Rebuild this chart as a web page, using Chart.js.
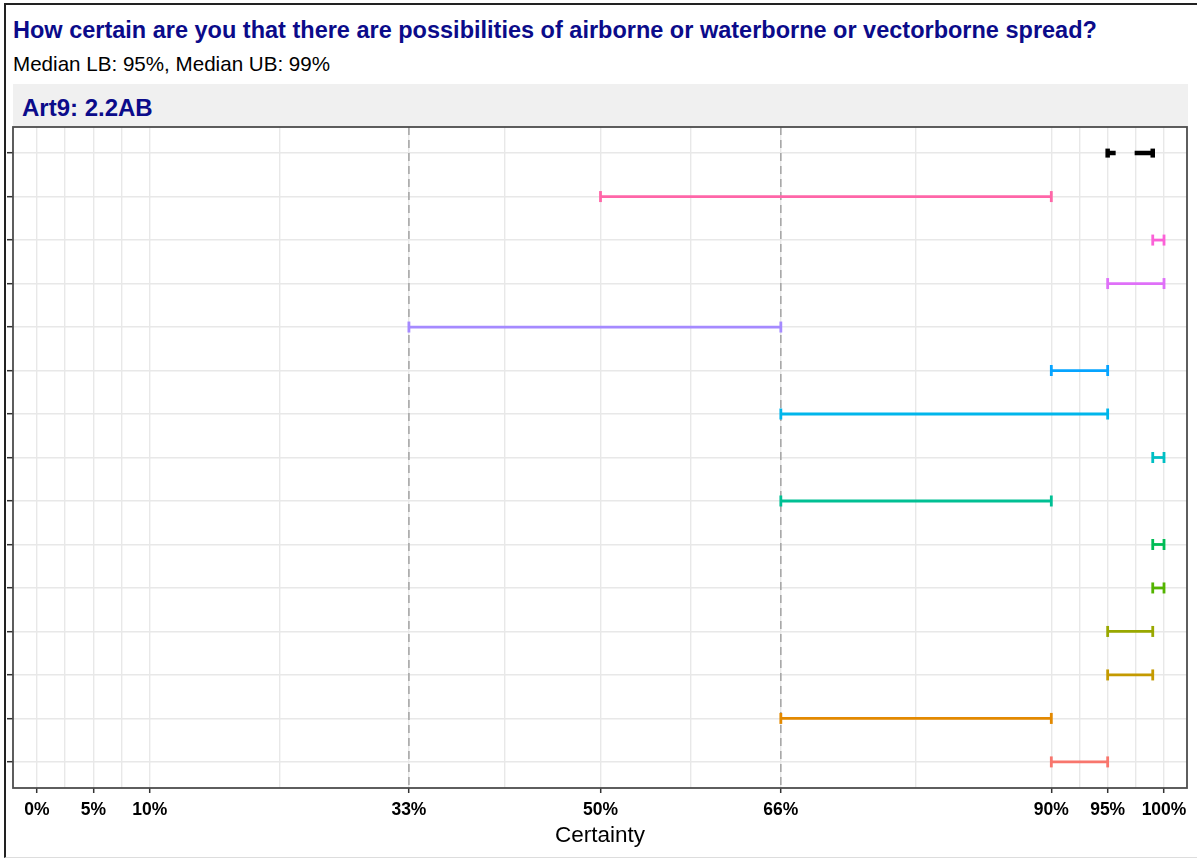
<!DOCTYPE html>
<html>
<head>
<meta charset="utf-8">
<script src="https://cdn.jsdelivr.net/npm/chart.js@4.4.1/dist/chart.umd.min.js"></script>
<style>
  html, body { margin: 0; padding: 0; background: #fff; }
  #wrap { position: relative; width: 1197px; height: 859px; overflow: hidden;
          font-family: 'Liberation Sans', Arial, sans-serif; }
  #frame { position: absolute; left: 4px; top: 3px; right: -10px; bottom: 1px;
           border-left: 2px solid #222; border-top: 2px solid #222; border-bottom: 1px solid #ddd; }
  .txt { position: absolute; white-space: nowrap; }
  #title { left: 13px; top: 16px; font-size: 23.5px; line-height: 28px; font-weight: bold; color: #0b0b8a; }
  #subtitle { left: 13px; top: 51px; font-size: 20.6px; line-height: 26px; color: #000; }
  #strip { position: absolute; left: 13px; top: 84px; width: 1175px; height: 43px; background: #f0f0f0; }
  #stripText { left: 22px; top: 94px; font-size: 24px; line-height: 28px; font-weight: bold; color: #0b0b8a; }
  canvas { position: absolute; left: 0; top: 0; }
</style>
</head>
<body>
<div id="wrap">
  <div id="frame"></div>
  <div class="txt" id="title">How certain are you that there are possibilities of airborne or waterborne or vectorborne spread?</div>
  <div class="txt" id="subtitle">Median LB: 95%, Median UB: 99%</div>
  <div id="strip"></div>
  <div class="txt" id="stripText">Art9: 2.2AB</div>
  <canvas id="chart" width="1197" height="859"></canvas>
</div>
<script>
// Rows from top (1) to bottom (15); row 1 is the median interval
const rowIndex = [1, 2, 3, 4, 5, 6, 7, 8, 9, 10, 11, 12, 13, 14, 15];
const lowerBound = [95, 50, 99, 95, 33, 90, 66, 99, 66, 99, 99, 95, 95, 66, 90];
const upperBound = [99, 90, 100, 100, 66, 95, 95, 100, 90, 100, 100, 99, 99, 90, 95];
const barColors = ['#000000', '#FF66A8', '#FB61D7', '#DF70F8', '#A58AFF', '#06A4FF', '#00B6EB',
                   '#00BFC4', '#00C094', '#00BC56', '#53B400', '#99A800', '#C49A00', '#E38900', '#F8766D'];

// Axis breaks (labelled) and the midpoints between them (unlabelled grid)
const xBreaks = [0, 5, 10, 33, 50, 66, 90, 95, 100];
const xMinor = [2.5, 7.5, 21.5, 41.5, 58, 78, 92.5, 97.5];
const refLines = [33, 66];

const X_MIN = -2.13, X_MAX = 102.04;
const Y_MIN = 0.4, Y_MAX = 15.6;

const datasets = [];

rowIndex.forEach((row, i) => {
  const isMedian = i === 0;
  const w = isMedian ? 4.5 : 2.8;
  datasets.push({
    type: 'line',
    data: [{ x: lowerBound[i], y: row }, { x: upperBound[i], y: row }],
    borderColor: barColors[i],
    backgroundColor: barColors[i],
    borderWidth: w,
    borderDash: isMedian ? [8, 19, 60, 0] : [],
    borderCapStyle: 'butt',
    pointStyle: 'line',
    rotation: 90,
    pointRadius: isMedian ? 4.5 : 5.5,
    pointBorderWidth: w,
    pointBorderColor: barColors[i],
    pointHoverRadius: 5.5,
    order: 0
  });
});

refLines.forEach(v => {
  datasets.push({
    type: 'line',
    data: [{ x: v, y: Y_MIN }, { x: v, y: Y_MAX }],
    borderColor: '#a3a3a3',
    borderWidth: 1.5,
    borderDash: [8, 5],
    pointRadius: 0,
    order: 1
  });
});

const panelBorder = {
  id: 'panelBorder',
  afterDraw(chart) {
    const { ctx, chartArea: a } = chart;
    ctx.save();
    ctx.strokeStyle = '#4d4d4d';
    ctx.lineWidth = 1.8;
    ctx.strokeRect(a.left, a.top, a.right - a.left, a.bottom - a.top);
    ctx.restore();
  }
};

new Chart(document.getElementById('chart'), {
  type: 'line',
  data: { datasets },
  plugins: [panelBorder],
  options: {
    responsive: false,
    animation: false,
    events: [],
    layout: { padding: { left: 6, top: 127, right: 9, bottom: 0 } },
    plugins: { legend: { display: false }, tooltip: { enabled: false } },
    scales: {
      x: {
        type: 'linear',
        position: 'bottom',
        min: X_MIN,
        max: X_MAX,
        afterBuildTicks: s => {
          s.ticks = [...xBreaks, ...xMinor].sort((a, b) => a - b).map(v => ({ value: v }));
        },
        afterFit: s => { s.height = 71; },
        border: { display: false },
        grid: {
          color: '#e8e8e8',
          lineWidth: 1.4,
          drawTicks: true,
          tickLength: 5,
          tickWidth: 1.5,
          tickColor: c => (c.tick && xBreaks.includes(c.tick.value)) ? '#333333' : 'rgba(0,0,0,0)'
        },
        ticks: {
          autoSkip: false,
          maxRotation: 0,
          padding: 7,
          color: '#000',
          font: { family: "'Liberation Sans', Arial, sans-serif", size: 17.5, weight: 'bold' },
          callback: v => xBreaks.includes(v) ? v + '%' : ''
        },
        title: {
          display: true,
          text: 'Certainty',
          color: '#000',
          font: { family: "'Liberation Sans', Arial, sans-serif", size: 22.5 },
          padding: { top: 0, bottom: 9.5 }
        }
      },
      y: {
        type: 'linear',
        reverse: true,
        min: Y_MIN,
        max: Y_MAX,
        afterBuildTicks: s => { s.ticks = rowIndex.map(v => ({ value: v })); },
        afterFit: s => { s.width = 7; },
        border: { display: false },
        grid: {
          color: '#e8e8e8',
          lineWidth: 1.4,
          drawTicks: true,
          tickLength: 6,
          tickWidth: 1.5,
          tickColor: '#333333'
        },
        ticks: { padding: 0, callback: () => '' }
      }
    }
  }
});
</script>
</body>
</html>
